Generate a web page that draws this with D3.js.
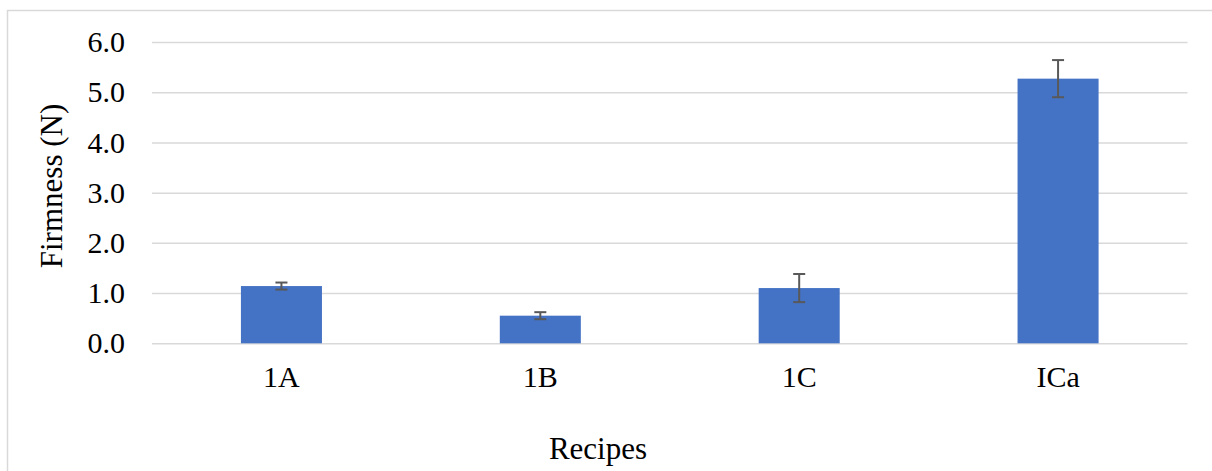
<!DOCTYPE html>
<html>
<head>
<meta charset="utf-8">
<script src="https://cdn.jsdelivr.net/npm/d3@7"></script>
<style>
  html, body { margin: 0; padding: 0; background: #fff; }
  svg { display: block; }
  svg text { font-family: 'Liberation Serif', 'Times New Roman', serif; }
</style>
</head>
<body>
<script>
const categories = ["1A", "1B", "1C", "ICa"];
const firmness = [1.14, 0.55, 1.10, 5.27];
const errors = [0.07, 0.07, 0.28, 0.37];
const yTicks = [0, 1, 2, 3, 4, 5, 6];
const yTitle = "Firmness (N)";
const xTitle = "Recipes";

(function () {
const W = 1212, H = 471;
const mLeft = 152, mRight = 1187.5, mTop = 42, mBottom = 343.3;
const font = "'Liberation Serif', 'Times New Roman', serif";

const svg = d3.select("body").append("svg").attr("width", W).attr("height", H);

// chart border
svg.append("path")
  .attr("d", `M7.5,${H + 5} L7.5,10.5 L${W + 5},10.5`)
  .attr("fill", "none").attr("stroke", "#d9d9d9").attr("stroke-width", 1.5);

const x = d3.scaleBand().domain(categories).range([mLeft, mRight]).paddingInner(0.687).paddingOuter(0.3435);
const y = d3.scaleLinear().domain([0, 6]).range([mBottom, mTop]);

// gridlines
const yAxis = d3.axisLeft(y).tickValues(yTicks).tickSize(-(mRight - mLeft)).tickFormat(d3.format(".1f")).tickPadding(27);
const gy = svg.append("g").attr("transform", `translate(${mLeft},0)`).call(yAxis);
gy.attr("font-family", font);
gy.select(".domain").remove();
gy.selectAll(".tick line").attr("stroke", "#d9d9d9").attr("stroke-width", 1.5);
gy.selectAll(".tick text").attr("font-family", font).attr("font-size", 30).attr("fill", "#000");

// bars
svg.append("g").selectAll("rect").data(categories).join("rect")
  .attr("x", d => x(d))
  .attr("width", x.bandwidth())
  .attr("y", (d, i) => y(firmness[i]))
  .attr("height", (d, i) => y(0) - y(firmness[i]))
  .attr("fill", "#4472C4");

// error bars
const eg = svg.append("g").attr("stroke", "#595959").attr("stroke-width", 2);
categories.forEach((c, i) => {
  const cx = x(c) + x.bandwidth() / 2;
  const hi = y(firmness[i] + errors[i]), lo = y(firmness[i] - errors[i]);
  eg.append("line").attr("x1", cx).attr("x2", cx).attr("y1", hi).attr("y2", lo);
  eg.append("line").attr("x1", cx - 6).attr("x2", cx + 6).attr("y1", hi).attr("y2", hi);
  eg.append("line").attr("x1", cx - 6).attr("x2", cx + 6).attr("y1", lo).attr("y2", lo);
});

// x axis labels
const xAxis = d3.axisBottom(x).tickSize(0).tickPadding(22);
const gx = svg.append("g").attr("transform", `translate(0,${mBottom})`).call(xAxis);
gx.attr("font-family", font);
gx.select(".domain").remove();
gx.selectAll(".tick text").attr("font-family", font).attr("font-size", 30).attr("fill", "#000");

// titles
svg.append("text").attr("x", 598).attr("y", 459)
  .attr("text-anchor", "middle").attr("font-family", font).attr("font-size", 31).attr("fill", "#000")
  .text(xTitle);
svg.append("text").attr("transform", `translate(62,186) rotate(-90)`)
  .attr("text-anchor", "middle").attr("font-family", font).attr("font-size", 31).attr("fill", "#000")
  .text(yTitle);
})();
</script>
</body>
</html>
